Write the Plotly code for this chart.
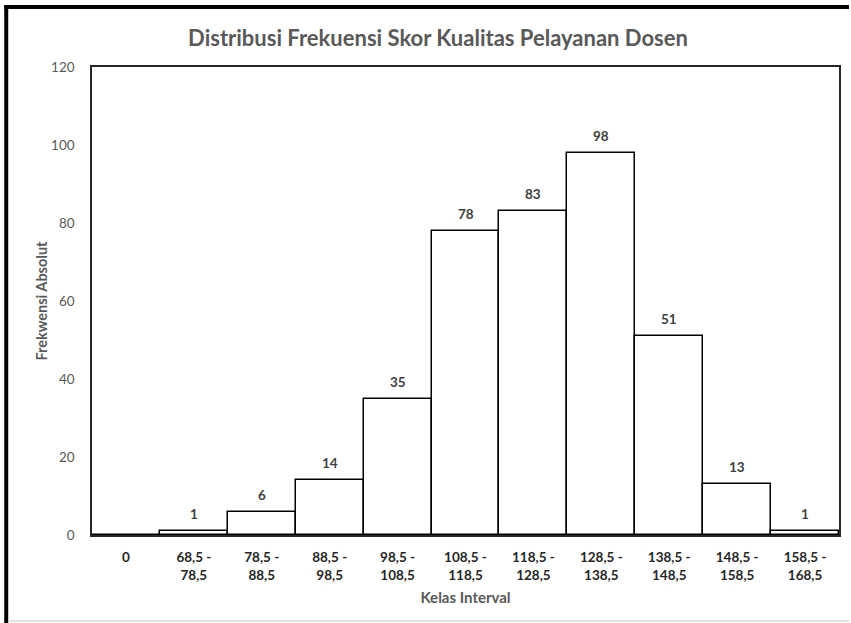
import plotly.graph_objects as go

categories = ["0", "68,5 -<br>78,5", "78,5 -<br>88,5", "88,5 -<br>98,5", "98,5 -<br>108,5",
              "108,5 -<br>118,5", "118,5 -<br>128,5", "128,5 -<br>138,5", "138,5 -<br>148,5",
              "148,5 -<br>158,5", "158,5 -<br>168,5"]
frequencies = [0, 1, 6, 14, 35, 78, 83, 98, 51, 13, 1]
y_ticks = [0, 20, 40, 60, 80, 100, 120]

FONT = "Lato, 'Open Sans', sans-serif"
W, H = 851, 623
ML, MR, MT, MB = 92, 10, 67, 88
PW = W - ML - MR
PH = H - MT - MB

def px(x):
    return (x - ML) / PW

def py(y):
    return (H - MB - y) / PH

fig = go.Figure()
fig.add_trace(go.Bar(
    x=categories, y=frequencies,
    marker=dict(color="white", line=dict(color="black", width=1.5)),
    showlegend=False, hoverinfo="x+y",
))

annotations = []
for c, v in zip(categories, frequencies):
    if v == 0:
        continue
    annotations.append(dict(x=c, y=v, xref="x", yref="y", text=f"<b>{v}</b>", showarrow=False,
                            yshift=17, yanchor="middle",
                            font=dict(family=FONT, size=13.5, color="#404040")))

fig.update_layout(
    width=W, height=H,
    margin=dict(l=ML, r=MR, t=MT, b=MB),
    paper_bgcolor="white", plot_bgcolor="white",
    bargap=0,
    font=dict(family=FONT, color="#404040"),
    title=dict(text="<b>Distribusi Frekuensi Skor Kualitas Pelayanan Dosen</b>",
               x=438 / W, xref="container", xanchor="center",
               y=1 - 38 / H, yref="container", yanchor="middle",
               font=dict(family=FONT, size=22, color="#595959")),
    xaxis=dict(
        type="category", showline=True, linecolor="#262626", linewidth=1.5, mirror=True,
        ticks="", tickfont=dict(family=FONT, size=13.5, color="#262626"), ticklabelstandoff=9,
        tickprefix="<b>", ticksuffix="</b>",
        title=dict(text="<b>Kelas Interval</b>", font=dict(family=FONT, size=15, color="#595959"),
                   standoff=11),
    ),
    yaxis=dict(
        range=[0, 120], tickvals=y_ticks, showgrid=False, zeroline=False,
        showline=True, linecolor="#262626", linewidth=1.5, mirror=True, ticks="",
        tickfont=dict(family=FONT, size=13.5, color="#595959"), ticklabelstandoff=13,
        tickprefix="<b>", ticksuffix="</b>",
        title=dict(text="<b>Frekwensi Absolut</b>", font=dict(family=FONT, size=14.5, color="#595959"),
                   standoff=0),
    ),
    annotations=annotations,
    shapes=[
        dict(type="rect", xref="paper", yref="paper", x0=px(4), x1=px(8), y0=py(5), y1=py(623),
             fillcolor="black", line=dict(width=0)),
        dict(type="rect", xref="paper", yref="paper", x0=px(4), x1=px(851), y0=py(5), y1=py(9),
             fillcolor="black", line=dict(width=0)),
        dict(type="line", xref="paper", yref="paper", x0=px(8), x1=px(851), y0=py(621), y1=py(621),
             line=dict(color="#d9d9d9", width=1.5)),
    ],
)

fig.write_html("out.html", config={"displayModeBar": False},
               post_script="document.body.style.margin='0';")
